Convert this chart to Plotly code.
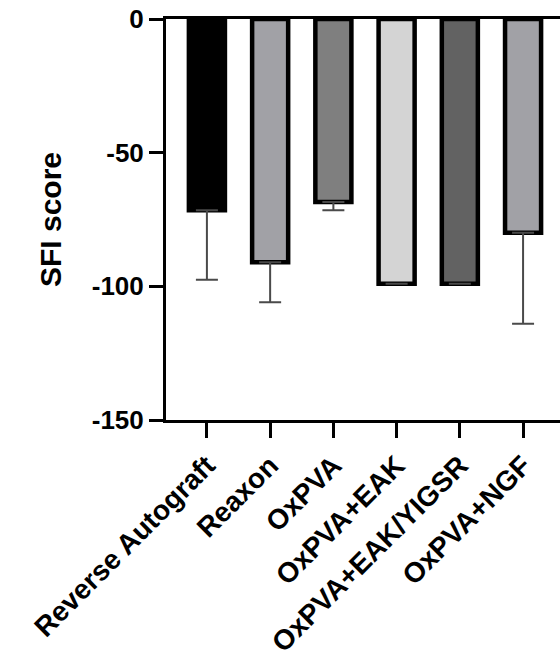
import plotly.graph_objects as go

categories = ["Reverse Autograft", "Reaxon", "OxPVA", "OxPVA+EAK", "OxPVA+EAK/YIGSR", "OxPVA+NGF"]
sfi_mean = [-71.5, -91.0, -68.5, -99.0, -99.0, -80.0]
sfi_err = [26.0, 15.0, 3.0, 0.0, 0.0, 34.0]
bar_colors = ["#000000", "#a1a1a6", "#7f7f7f", "#d4d4d4", "#626262", "#a1a1a6"]
y_ticks = [-150, -100, -50, 0]
y_tick_text = ["-150", "-100", "-50", "0"]

FONT = "Liberation Sans, Arial, sans-serif"

fig = go.Figure()
fig.add_trace(go.Bar(
    x=categories,
    y=sfi_mean,
    width=0.57,
    marker=dict(color=bar_colors, line=dict(color="#000000", width=4.5)),
    error_y=dict(type="data", symmetric=False, array=[0] * len(sfi_err), arrayminus=sfi_err,
                 color="#4a4a4a", thickness=2, width=11),
    showlegend=False,
))

fig.update_layout(
    width=560, height=661,
    margin=dict(l=166, r=0, t=19, b=241),
    paper_bgcolor="white", plot_bgcolor="white",
    font=dict(family=FONT, color="#000000"),
    xaxis=dict(
        range=[-0.647, 5.584],
        automargin=False,
        showline=True, linecolor="#000000", linewidth=3, mirror=True,
        ticks="outside", ticklen=15, tickwidth=3, tickcolor="#000000",
        tickangle=-45,
        ticklabeloverflow="allow",
        tickfont=dict(family=FONT, size=28, weight="bold", color="#000000"),
        showgrid=False, zeroline=False,
    ),
    yaxis=dict(
        range=[-150, 0],
        automargin=False,
        tickvals=y_ticks, ticktext=y_tick_text,
        showline=True, linecolor="#000000", linewidth=3,
        ticks="outside", ticklen=14, tickwidth=3, tickcolor="#000000",
        ticklabeloverflow="allow",
        tickfont=dict(family=FONT, size=26, weight="bold", color="#000000"),
        title=dict(text="SFI score", font=dict(family=FONT, size=30, weight="bold", color="#000000"), standoff=22),
        showgrid=False, zeroline=False,
    ),
)

# remove the browser's default 8px body margin so the figure fills the window exactly
fig.write_html("out.html", config={"displayModeBar": False},
               post_script="document.body.style.margin='0px';")
